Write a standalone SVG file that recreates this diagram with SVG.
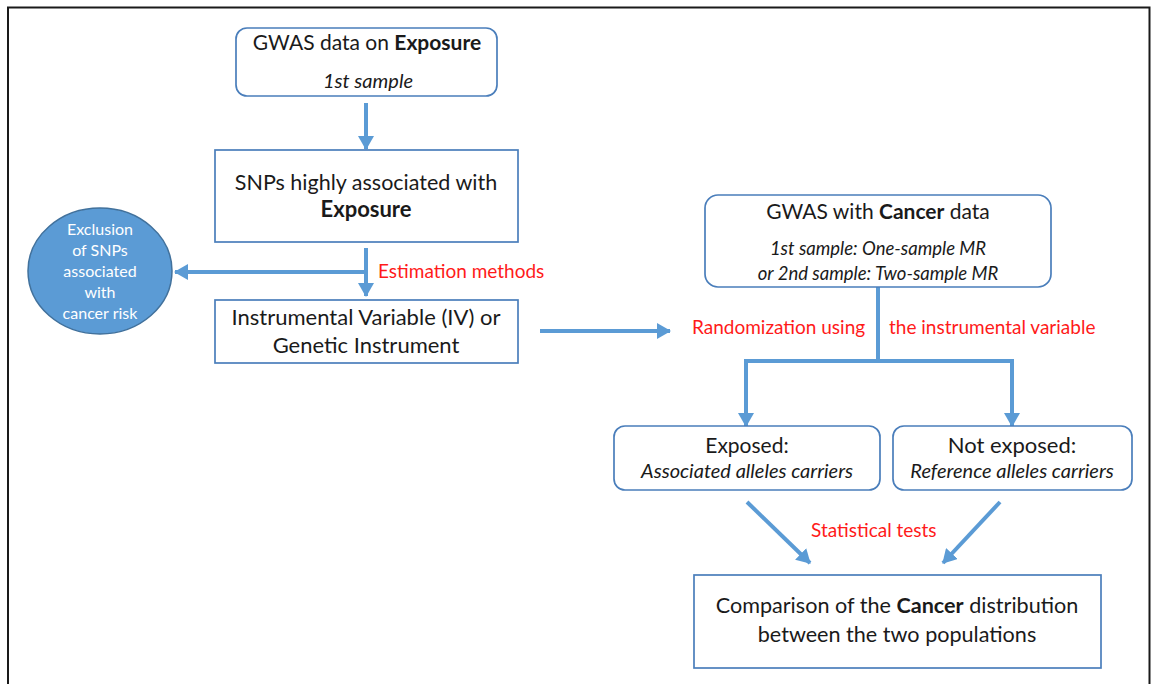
<svg xmlns="http://www.w3.org/2000/svg" width="1151" height="684" viewBox="0 0 1151 684">
<style>
.box{fill:#fff;stroke:#4a7ebb;stroke-width:1.7}
.t{font-family:Lato,"Liberation Sans",sans-serif;fill:#1a1a1a;text-anchor:middle}
.big{font-size:21px}
.l22{font-size:22px}
.it{font-style:italic;font-size:18.5px}
.it2{font-style:italic;font-size:20px}
.b{font-weight:bold}
.red{font-family:Lato,"Liberation Sans",sans-serif;fill:#ff1a1a;font-size:19px}
.c{fill:none;stroke:#5b9bd5;stroke-width:4}
.w{font-family:Lato,"Liberation Sans",sans-serif;fill:#fff;font-size:16px;text-anchor:middle}
</style>
<defs>
<marker id="ah" markerUnits="userSpaceOnUse" viewBox="0 0 14 16" refX="13" refY="8" markerWidth="14" markerHeight="16" orient="auto">
<path d="M0,0 L14,8 L0,16 Z" fill="#5b9bd5"/>
</marker>
</defs>
<rect x="0" y="0" width="1151" height="684" fill="#fff"/>
<path d="M8,700 L8,7.5 L1149.5,7.5 L1149.5,700" fill="none" stroke="#1a1a1a" stroke-width="2"/>

<g id="connectors">
<line class="c" x1="366" y1="103" x2="366" y2="149" marker-end="url(#ah)"/>
<line class="c" x1="366" y1="248" x2="366" y2="296" marker-end="url(#ah)"/>
<line class="c" x1="366" y1="272" x2="175" y2="272" marker-end="url(#ah)"/>
<line class="c" x1="540" y1="331" x2="670" y2="331" marker-end="url(#ah)"/>
<polyline class="c" points="878,287 878,361 746,361 746,426" marker-end="url(#ah)"/>
<polyline class="c" points="878,361 1012,361 1012,426" marker-end="url(#ah)"/>
<line class="c" x1="747" y1="502" x2="810" y2="563" marker-end="url(#ah)"/>
<line class="c" x1="1000" y1="502" x2="943" y2="563" marker-end="url(#ah)"/>
<text class="red" x="378" y="278">Estimation methods</text>
<text class="red" x="692" y="334">Randomization using</text>
<text class="red" x="889" y="334">the instrumental variable</text>
<text class="red" x="811" y="537">Statistical tests</text>
</g>

<g id="gwas-exposure">
<rect class="box" x="236" y="28" width="261" height="68" rx="11"/>
<text class="t big" x="367" y="50">GWAS data on <tspan class="b">Exposure</tspan></text>
<text class="t it2" x="368" y="88">1st sample</text>
</g>

<g id="snps">
<rect class="box" x="215" y="150" width="303" height="92"/>
<text class="t" x="366" y="190" style="font-size:21.5px">SNPs highly associated with</text>
<text class="t b" x="366" y="217" style="font-size:22px">Exposure</text>
</g>

<g id="exclusion">
<ellipse cx="100" cy="271" rx="72" ry="63" fill="#5b9bd5" stroke="#41719c" stroke-width="1.5"/>
<text class="w" x="100" y="235">Exclusion</text>
<text class="w" x="100" y="256">of SNPs</text>
<text class="w" x="100" y="277">associated</text>
<text class="w" x="100" y="298">with</text>
<text class="w" x="100" y="319">cancer risk</text>
</g>

<g id="iv">
<rect class="box" x="215" y="300" width="303" height="63"/>
<text class="t l22" x="366" y="325">Instrumental Variable (IV) or</text>
<text class="t l22" x="366" y="353">Genetic Instrument</text>
</g>

<g id="gwas-cancer">
<rect class="box" x="705" y="195" width="346" height="92" rx="13"/>
<text class="t big" x="878" y="219">GWAS with <tspan class="b">Cancer</tspan> data</text>
<text class="t it" x="878" y="255">1st sample: One-sample MR</text>
<text class="t it" x="878" y="280">or 2nd sample: Two-sample MR</text>
</g>

<g id="exposed">
<rect class="box" x="614" y="426" width="266" height="64" rx="11"/>
<text class="t big" x="747" y="453">Exposed:</text>
<text class="t it2" x="747" y="478">Associated alleles carriers</text>
</g>

<g id="not-exposed">
<rect class="box" x="893" y="426" width="239" height="64" rx="11"/>
<text class="t l22" x="1012" y="453">Not exposed:</text>
<text class="t it2" x="1012" y="478">Reference alleles carriers</text>
</g>

<g id="comparison">
<rect class="box" x="694" y="575" width="407" height="93"/>
<text class="t" x="897" y="613" style="font-size:21.6px">Comparison of the <tspan class="b">Cancer</tspan> distribution</text>
<text class="t" x="897" y="642" style="font-size:21.6px">between the two populations</text>
</g>
</svg>
